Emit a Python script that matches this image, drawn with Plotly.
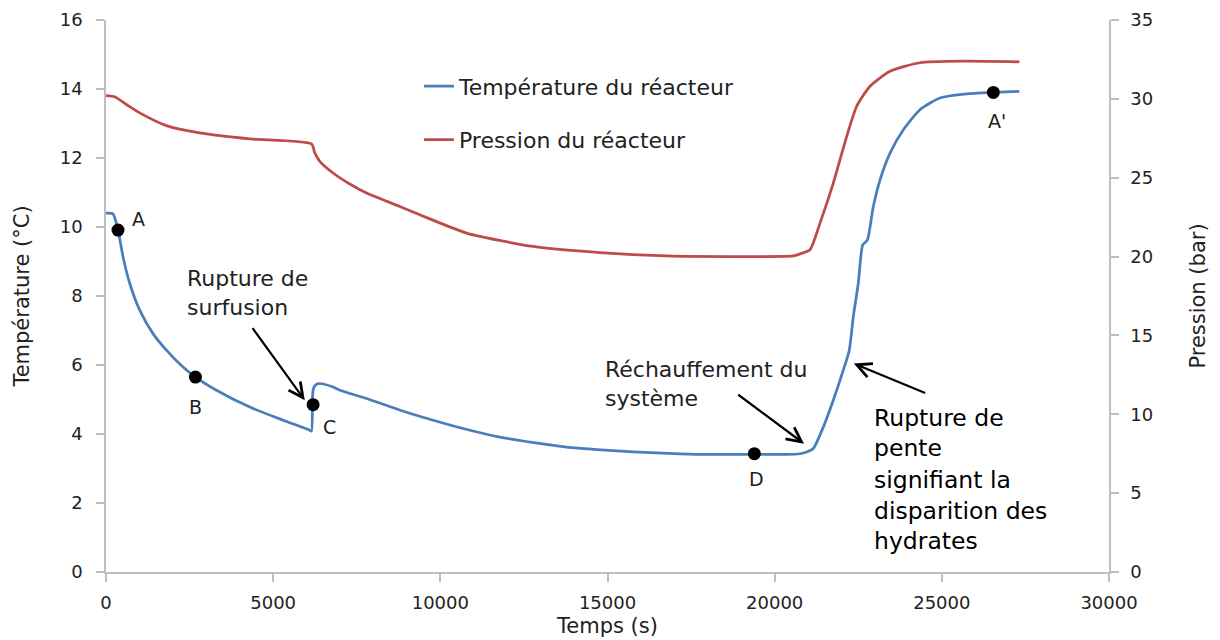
import plotly.graph_objects as go

# Temperature (°C) vs time (s)
t_temp = [0, 209, 359, 509, 709, 1008, 1406, 1807, 2304, 2675, 3303, 4300, 5296,
          6095, 6146, 6175, 6194, 6250, 6343, 6500, 6792, 6993, 7792, 8800, 9785,
          10800, 11777, 12800, 13776, 14800, 15769, 16800, 17765, 19393, 20300,
          20700, 20958, 21155, 21454, 21753, 22053, 22232, 22352, 22501, 22633,
          22771, 22950, 23150, 23450, 23848, 24347, 24945, 25745, 26541, 27319]
temp = [10.40, 10.38, 9.91, 9.14, 8.37, 7.59, 6.91, 6.43, 5.94, 5.65, 5.27, 4.78, 4.40,
        4.11, 4.08, 5.00, 5.27, 5.40, 5.46, 5.45, 5.36, 5.27, 5.03, 4.69, 4.40,
        4.13, 3.91, 3.75, 3.62, 3.54, 3.48, 3.44, 3.41, 3.41, 3.41,
        3.42, 3.48, 3.58, 4.20, 4.98, 5.85, 6.43, 7.40, 8.37, 9.48,
        9.62, 10.59, 11.36, 12.14, 12.82, 13.40, 13.74, 13.86, 13.90, 13.93]

# Pressure (bar) vs time (s)
t_pres = [0, 260, 610, 1008, 1807, 2804, 4300, 6146, 6245, 6394, 6792, 7292, 7792,
          8788, 9387, 10784, 12777, 14772, 16768, 18761, 20557, 20757, 21056,
          21356, 21754, 22155, 22454, 22852, 23450, 24347, 25644, 27319]
pres = [30.21, 30.13, 29.64, 29.11, 28.30, 27.84, 27.46, 27.14, 26.57, 26.04, 25.30, 24.60, 24.03,
        23.18, 22.65, 21.49, 20.64, 20.25, 20.04, 20.00, 20.04, 20.17, 20.43,
        22.12, 24.66, 27.62, 29.53, 30.80, 31.75, 32.29, 32.39, 32.35]

# Marked points
pt_labels = ["A", "B", "C", "D", "A'"]
pt_t = [359, 2675, 6194, 19393, 26540]
pt_temp = [9.91, 5.65, 4.85, 3.43, 13.90]

x_ticks = [0, 5000, 10000, 15000, 20000, 25000, 30000]
y1_ticks = [0, 2, 4, 6, 8, 10, 12, 14, 16]
y2_ticks = [0, 5, 10, 15, 20, 25, 30, 35]

BLUE = "#4A7EBB"
RED = "#BE4B48"
AX = "#BFBFBF"
FONT = "DejaVu Sans"
TXT = "#222222"

fig = go.Figure()
fig.add_trace(go.Scatter(x=t_temp, y=temp, mode="lines", name="Température du réacteur",
                         line=dict(color=BLUE, width=2.75, shape="spline", smoothing=0.6),
                         legendgroup="a"))
fig.add_trace(go.Scatter(x=t_pres, y=pres, mode="lines", name="Pression du réacteur",
                         line=dict(color=RED, width=2.75, shape="spline", smoothing=0.6),
                         yaxis="y2", legendgroup="b"))
fig.add_trace(go.Scatter(x=pt_t, y=pt_temp, mode="markers", showlegend=False,
                         marker=dict(color="black", size=13)))

# point labels (text positions)
lab_pos = [(957, 10.23), (2675, 4.78), (6673, 4.20), (19455, 2.71), (26643, 13.06)]
for lab, (x, y) in zip(pt_labels, lab_pos):
    fig.add_annotation(x=x, y=y, text=lab, showarrow=False,
                       font=dict(family=FONT, size=19, color=TXT))

# arrows (tail -> head)
arrows = [((4351, 7.11), (5946, 4.98)),
          ((18867, 5.17), (20879, 3.72)),
          ((24548, 5.17), (22367, 6.04))]
for (tx, ty), (hx, hy) in arrows:
    fig.add_annotation(x=hx, y=hy, ax=tx, ay=ty, axref="x", ayref="y", xref="x", yref="y",
                       text="", showarrow=True, arrowhead=5, arrowsize=1.3,
                       arrowwidth=2.2, arrowcolor="black")

fig.add_annotation(x=2350, y=8.08, text="Rupture de<br>surfusion", showarrow=False,
                   xanchor="left", align="left", font=dict(family=FONT, size=22, color=TXT))
fig.add_annotation(x=14860, y=5.45, text="Réchauffement du<br>système", showarrow=False,
                   xanchor="left", align="left", font=dict(family=FONT, size=22, color=TXT))
big_lines = ["Rupture de", "pente", "signifiant la", "disparition des", "hydrates"]
big_y = [4.46, 3.58, 2.66, 1.77, 0.89]
for txt, yy in zip(big_lines, big_y):
    fig.add_annotation(x=22900, y=yy, text=txt, showarrow=False, xanchor="left",
                       font=dict(family=FONT, size=23.5, color="black"))

axis_common = dict(showline=True, linecolor=AX, linewidth=1.5, ticks="outside",
                   tickcolor=AX, ticklen=8, tickwidth=1.5, showgrid=False, zeroline=False,
                   automargin=False,
                   tickfont=dict(family=FONT, size=18, color=TXT))

# page body has an 8px margin: the figure is sized/positioned to compensate
fig.update_layout(
    width=1212, height=632,
    margin=dict(l=98, r=111, t=12, b=68),
    paper_bgcolor="white", plot_bgcolor="white",
    xaxis=dict(range=[0, 30000], tickvals=x_ticks, ticktext=[str(v) for v in x_ticks],
               ticklabelstandoff=6,
               title=dict(text="Temps (s)", font=dict(family=FONT, size=21, color=TXT), standoff=6),
               **axis_common),
    yaxis=dict(range=[0, 16], tickvals=y1_ticks, ticklabelstandoff=10,
               title=dict(text="Température (°C)", font=dict(family=FONT, size=21, color=TXT), standoff=24),
               **axis_common),
    yaxis2=dict(range=[0, 35], tickvals=y2_ticks, overlaying="y", side="right",
                ticklabelstandoff=8,
                title=dict(text="Pression (bar)", font=dict(family=FONT, size=21, color=TXT), standoff=38),
                **axis_common),
    legend=dict(x=0.312, y=0.918, xanchor="left", yanchor="top", tracegroupgap=22,
                font=dict(family=FONT, size=22, color=TXT), bgcolor="rgba(0,0,0,0)",
                itemwidth=30),
    showlegend=True,
)

fig.write_html("out.html")
